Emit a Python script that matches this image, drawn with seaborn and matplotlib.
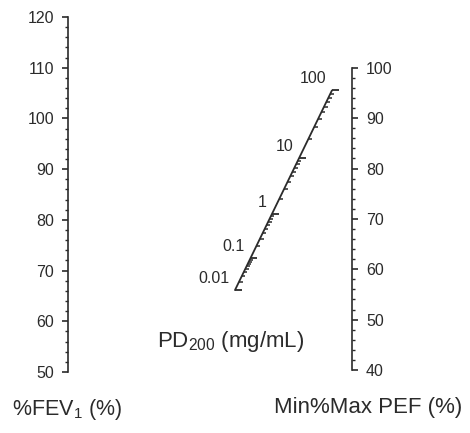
import numpy as np
import seaborn as sns
import matplotlib.pyplot as plt
from matplotlib.ticker import FixedLocator

sns.set_style('white')
plt.rcParams['font.family'] = ['Liberation Sans', 'DejaVu Sans']
plt.rcParams['mathtext.fontset'] = 'custom'
plt.rcParams['mathtext.rm'] = 'Liberation Sans'
plt.rcParams['mathtext.it'] = 'Liberation Sans'

# scale values
fev_ticks = [50, 60, 70, 80, 90, 100, 110, 120]
fev_minor = list(range(50, 121, 2))
pef_ticks = [40, 50, 60, 70, 80, 90, 100]
pef_minor = list(range(40, 101, 2))
pd_decades = [0.01, 0.1, 1, 10, 100]
pd_labels = ['0.01', '0.1', '1', '10', '100']
pd_minor = [m * d for d in [0.01, 0.1, 1, 10] for m in range(2, 10)]

ink = '#2b2b2b'


# middle (PD200) scale: position along a slanted line, in %FEV1 units
def pd_pos(v):
    t = np.log10(v) + 2
    y = 66.15 + 5.12 * t + 1.18 * t ** 2
    x = 0.588 + 0.00867 * (y - 66.15)
    return x, y


fig = plt.figure(figsize=(4.7, 4.33), dpi=100)
ax = fig.add_axes([68 / 470, 61 / 433, 284 / 470, 355 / 433])
ax.set_xlim(0, 1)
ax.set_ylim(50, 120)
for s in ['top', 'right', 'bottom']:
    ax.spines[s].set_visible(False)
ax.spines['left'].set_bounds(50, 120)
ax.spines['left'].set_color(ink)
ax.spines['left'].set_linewidth(1.2)
ax.set_xticks([])
ax.set_yticks(fev_ticks)
ax.yaxis.set_minor_locator(FixedLocator(fev_minor))
ax.tick_params(axis='y', which='major', direction='out', length=4, width=1.2,
               color=ink, labelsize=11.5, labelcolor=ink, pad=6, left=True)
ax.tick_params(axis='y', which='minor', direction='out', length=2.5, width=1,
               color=ink, left=True)

ax2 = ax.twinx()
ax2.set_ylim(39.6, 110.1)
for s in ['top', 'left', 'bottom']:
    ax2.spines[s].set_visible(False)
ax2.spines['right'].set_bounds(40, 100)
ax2.spines['right'].set_color(ink)
ax2.spines['right'].set_linewidth(1.2)
ax2.set_yticks(pef_ticks)
ax2.yaxis.set_minor_locator(FixedLocator(pef_minor))
ax2.tick_params(axis='y', which='major', direction='out', length=4, width=1.2,
                color=ink, labelsize=11.5, labelcolor=ink, pad=6, right=True)
ax2.tick_params(axis='y', which='minor', direction='out', length=2.5, width=1,
                color=ink, right=True)

# middle scale line
xs, ys = pd_pos(np.array([pd_decades[0], pd_decades[-1]]))
sns.lineplot(x=xs, y=ys, ax=ax, color=ink, lw=1.3, clip_on=False, sort=False)

mx, my = pd_pos(np.array(pd_minor))
ax.hlines(my, mx, mx + 0.013, color=ink, lw=1.1, clip_on=False)
dx, dy = pd_pos(np.array(pd_decades))
ax.hlines(dy, dx, dx + 0.024, color=ink, lw=1.3, clip_on=False)
for x, y, lab in zip(dx, dy, pd_labels):
    ax.annotate(lab, (x, y), xytext=(-4, 3), textcoords='offset points',
                ha='right', va='bottom', fontsize=11.5, color=ink)

fig.text(231 / 470, 1 - 342 / 433, r'PD$_{\mathrm{200}}$ (mg/mL)', ha='center',
         va='center', fontsize=16, color=ink)
fig.text(12 / 470, 1 - 410 / 433, r'%FEV$_{\mathrm{1}}$ (%)', ha='left',
         va='center', fontsize=15.5, color=ink)
fig.text(462 / 470, 1 - 408 / 433, 'Min%Max PEF (%)', ha='right',
         va='center', fontsize=16, color=ink)

fig.savefig('out.png', dpi=100)
